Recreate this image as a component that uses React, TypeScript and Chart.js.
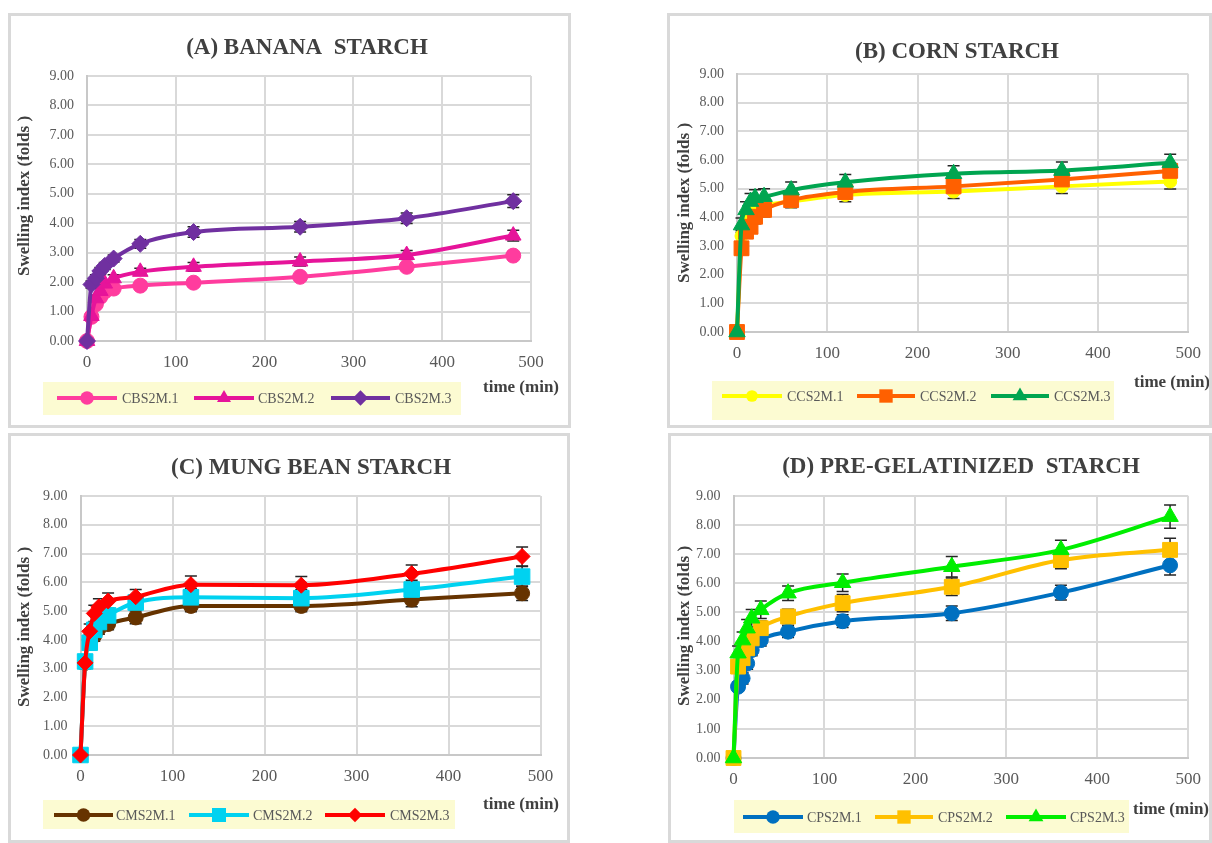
import React, { useEffect, useRef } from "react";
import { Chart, registerables } from "chart.js";

Chart.register(...registerables);

const FONT = "'Liberation Serif', 'Times New Roman', serif";

// ---- shared axes ----
const times = [0, 5, 10, 15, 20, 30, 60, 120, 240, 360, 480];
const xTickValues = [0, 100, 200, 300, 400, 500];
const xTickLabels = ["0", "100", "200", "300", "400", "500"];
const yTickValues = [0, 1, 2, 3, 4, 5, 6, 7, 8, 9];
const yTickLabels = ["0.00", "1.00", "2.00", "3.00", "4.00", "5.00", "6.00", "7.00", "8.00", "9.00"];
const yAxisTitle = "Swelling index (folds )";
const xAxisTitle = "time (min)";

// ---- (A) Banana starch ----
const titleA = "(A) BANANA  STARCH";
const labelsA = ["CBS2M.1", "CBS2M.2", "CBS2M.3"];
const cbs1 = [0, 0.82, 1.25, 1.5, 1.68, 1.78, 1.88, 1.98, 2.18, 2.52, 2.9];
const cbs2 = [0, 0.85, 1.45, 1.7, 1.95, 2.13, 2.35, 2.52, 2.7, 2.92, 3.58];
const cbs3 = [0, 1.92, 2.13, 2.38, 2.55, 2.8, 3.3, 3.7, 3.88, 4.17, 4.75];
const cbs1Err = [0, 0.08, 0.08, 0.08, 0.08, 0.08, 0.1, 0.1, 0.1, 0.12, 0.12];
const cbs2Err = [0, 0.1, 0.1, 0.1, 0.1, 0.12, 0.12, 0.15, 0.15, 0.15, 0.18];
const cbs3Err = [0, 0.12, 0.12, 0.12, 0.12, 0.12, 0.15, 0.18, 0.18, 0.18, 0.22];

// ---- (B) Corn starch ----
const titleB = "(B) CORN STARCH";
const labelsB = ["CCS2M.1", "CCS2M.2", "CCS2M.3"];
const ccs1 = [0, 3.35, 3.85, 4.1, 4.25, 4.4, 4.55, 4.78, 4.9, 5.08, 5.25];
const ccs2 = [0, 2.92, 3.5, 3.67, 4.02, 4.26, 4.6, 4.88, 5.08, 5.32, 5.62];
const ccs3 = [0, 3.73, 4.26, 4.55, 4.68, 4.72, 4.95, 5.22, 5.52, 5.63, 5.9];
const ccs1Err = [0, 0.2, 0.2, 0.2, 0.2, 0.22, 0.22, 0.24, 0.24, 0.25, 0.26];
const ccs2Err = [0, 0.22, 0.22, 0.22, 0.24, 0.24, 0.25, 0.25, 0.25, 0.26, 0.28];
const ccs3Err = [0, 0.25, 0.28, 0.28, 0.28, 0.28, 0.28, 0.27, 0.28, 0.3, 0.3];

// ---- (C) Mung bean starch ----
const titleC = "(C) MUNG BEAN STARCH";
const labelsC = ["CMS2M.1", "CMS2M.2", "CMS2M.3"];
const cms1 = [0, 3.2, 4.0, 4.15, 4.4, 4.55, 4.78, 5.18, 5.18, 5.4, 5.62];
const cms2 = [0, 3.25, 3.9, 4.35, 4.62, 4.85, 5.3, 5.48, 5.45, 5.75, 6.2];
const cms3 = [0, 3.2, 4.3, 4.92, 5.15, 5.35, 5.5, 5.92, 5.9, 6.3, 6.9];
const cms1Err = [0, 0.15, 0.2, 0.2, 0.2, 0.2, 0.22, 0.2, 0.2, 0.25, 0.25];
const cms2Err = [0, 0.2, 0.25, 0.25, 0.25, 0.25, 0.25, 0.3, 0.3, 0.32, 0.35];
const cms3Err = [0, 0.2, 0.25, 0.28, 0.28, 0.28, 0.25, 0.3, 0.3, 0.3, 0.33];

// ---- (D) Pre-gelatinized starch ----
const titleD = "(D) PRE-GELATINIZED  STARCH";
const labelsD = ["CPS2M.1", "CPS2M.2", "CPS2M.3"];
const cps1 = [0, 2.45, 2.74, 3.25, 3.71, 4.05, 4.34, 4.7, 4.97, 5.68, 6.62];
const cps2 = [0, 3.14, 3.43, 3.77, 4.11, 4.46, 4.86, 5.32, 5.88, 6.8, 7.15];
const cps3 = [0, 3.6, 4.05, 4.46, 4.8, 5.09, 5.66, 6.02, 6.57, 7.15, 8.29];
const cps1Err = [0, 0.15, 0.2, 0.2, 0.2, 0.2, 0.2, 0.22, 0.25, 0.25, 0.33];
const cps2Err = [0, 0.2, 0.2, 0.25, 0.25, 0.25, 0.25, 0.3, 0.3, 0.3, 0.4];
const cps3Err = [0, 0.25, 0.28, 0.3, 0.3, 0.3, 0.25, 0.3, 0.35, 0.33, 0.4];

type PointStyle = "circle" | "rect" | "triangle" | "rectRot";
type Series = { label: string; values: number[]; err: number[]; color: string; point: PointStyle; radius: number };
type PanelCfg = {
  title: string;
  left: number; top: number; w: number; h: number;
  area: { l: number; r: number; t: number; b: number };
  titlePos: [number, number];
  yTitlePos: [number, number];
  timePos: [number, number];
  legendBox: [number, number, number, number];
  legendY: number;
  legendLines: [number, number][];
  legendText: number[];
  series: Series[];
};

const panels: PanelCfg[] = [
  {
    title: titleA, left: 8, top: 13, w: 563, h: 415,
    area: { l: 79, r: 523, t: 63, b: 328 },
    titlePos: [299, 35], yTitlePos: [17, 183], timePos: [475, 375],
    legendBox: [35, 369, 453, 402], legendY: 385,
    legendLines: [[49, 109], [186, 246], [323, 382]], legendText: [114, 250, 387],
    series: [
      { label: labelsA[0], values: cbs1, err: cbs1Err, color: "#ff3c9e", point: "circle", radius: 7.5 },
      { label: labelsA[1], values: cbs2, err: cbs2Err, color: "#e6149a", point: "triangle", radius: 9 },
      { label: labelsA[2], values: cbs3, err: cbs3Err, color: "#7030a0", point: "rectRot", radius: 8.5 },
    ],
  },
  {
    title: titleB, left: 667, top: 13, w: 545, h: 415,
    area: { l: 70, r: 525, t: 61, b: 319 },
    titlePos: [290, 39], yTitlePos: [18, 190], timePos: [467, 370],
    legendBox: [45, 368, 447, 407], legendY: 383,
    legendLines: [[55, 115], [190, 248], [324, 382]], legendText: [120, 253, 387],
    series: [
      { label: labelsB[0], values: ccs1, err: ccs1Err, color: "#ffff00", point: "circle", radius: 6.5 },
      { label: labelsB[1], values: ccs2, err: ccs2Err, color: "#ff6000", point: "rect", radius: 10.5 },
      { label: labelsB[2], values: ccs3, err: ccs3Err, color: "#00a550", point: "triangle", radius: 9.5 },
    ],
  },
  {
    title: titleC, left: 8, top: 433, w: 562, h: 410,
    area: { l: 72.5, r: 532.5, t: 63, b: 322 },
    titlePos: [303, 35], yTitlePos: [17, 194], timePos: [475, 372],
    legendBox: [35, 367, 447, 396], legendY: 382,
    legendLines: [[46, 105], [181, 241], [317, 377]], legendText: [108, 245, 382],
    series: [
      { label: labelsC[0], values: cms1, err: cms1Err, color: "#663300", point: "circle", radius: 7.5 },
      { label: labelsC[1], values: cms2, err: cms2Err, color: "#00d2f0", point: "rect", radius: 11 },
      { label: labelsC[2], values: cms3, err: cms3Err, color: "#ff0000", point: "rectRot", radius: 8 },
    ],
  },
  {
    title: titleD, left: 668, top: 433, w: 544, h: 410,
    area: { l: 65.5, r: 523, t: 63, b: 325 },
    titlePos: [293, 34], yTitlePos: [17, 193], timePos: [465, 377],
    legendBox: [66, 367, 461, 400], legendY: 384,
    legendLines: [[75, 135], [207, 265], [338, 398]], legendText: [139, 270, 402],
    series: [
      { label: labelsD[0], values: cps1, err: cps1Err, color: "#0070c0", point: "circle", radius: 7.5 },
      { label: labelsD[1], values: cps2, err: cps2Err, color: "#ffc000", point: "rect", radius: 10.5 },
      { label: labelsD[2], values: cps3, err: cps3Err, color: "#00ee00", point: "triangle", radius: 9.5 },
    ],
  },
];

function drawMarker(ctx: CanvasRenderingContext2D, style: PointStyle, x: number, y: number, r: number, color: string) {
  ctx.beginPath();
  if (style === "circle") ctx.arc(x, y, r, 0, Math.PI * 2);
  else if (style === "rect") {
    const s = r * Math.SQRT1_2;
    ctx.rect(x - s, y - s, 2 * s, 2 * s);
  } else if (style === "triangle") {
    ctx.moveTo(x, y - r);
    ctx.lineTo(x + r * 0.866, y + r / 2);
    ctx.lineTo(x - r * 0.866, y + r / 2);
    ctx.closePath();
  } else {
    ctx.moveTo(x, y - r);
    ctx.lineTo(x + r, y);
    ctx.lineTo(x, y + r);
    ctx.lineTo(x - r, y);
    ctx.closePath();
  }
  ctx.fillStyle = color;
  ctx.fill();
}

function makeDecor(cfg: PanelCfg) {
  return {
    id: "decor",
    beforeDatasetsDraw(chart: any) {
      const ctx: CanvasRenderingContext2D = chart.ctx;
      const ys = chart.scales.y;
      ctx.save();
      ctx.strokeStyle = "#262626";
      ctx.lineWidth = 1.5;
      cfg.series.forEach((s, i) => {
        const meta = chart.getDatasetMeta(i);
        meta.data.forEach((pt: any, j: number) => {
          const e = s.err[j];
          if (!e) return;
          const x = pt.x;
          const y1 = ys.getPixelForValue(s.values[j] + e);
          const y2 = ys.getPixelForValue(s.values[j] - e);
          ctx.beginPath();
          ctx.moveTo(x, y1); ctx.lineTo(x, y2);
          ctx.moveTo(x - 6, y1); ctx.lineTo(x + 6, y1);
          ctx.moveTo(x - 6, y2); ctx.lineTo(x + 6, y2);
          ctx.stroke();
        });
      });
      ctx.restore();
    },
    afterDraw(chart: any) {
      const ctx: CanvasRenderingContext2D = chart.ctx;
      ctx.save();
      // title
      ctx.fillStyle = "#404040";
      ctx.font = `bold 23px ${FONT}`;
      ctx.textAlign = "center";
      ctx.textBaseline = "middle";
      ctx.fillText(cfg.title, cfg.titlePos[0], cfg.titlePos[1]);
      // y title
      ctx.save();
      ctx.translate(cfg.yTitlePos[0], cfg.yTitlePos[1]);
      ctx.rotate(-Math.PI / 2);
      ctx.font = `bold 17px ${FONT}`;
      ctx.fillText(yAxisTitle, 0, 0);
      ctx.restore();
      // x title
      ctx.font = `bold 17px ${FONT}`;
      ctx.textAlign = "left";
      ctx.fillText(xAxisTitle, cfg.timePos[0], cfg.timePos[1]);
      // legend
      const [bx1, by1, bx2, by2] = cfg.legendBox;
      ctx.fillStyle = "#fcfbd2";
      ctx.fillRect(bx1, by1, bx2 - bx1, by2 - by1);
      cfg.series.forEach((s, i) => {
        const [a, b] = cfg.legendLines[i];
        ctx.strokeStyle = s.color;
        ctx.lineWidth = 4;
        ctx.beginPath();
        ctx.moveTo(a, cfg.legendY);
        ctx.lineTo(b, cfg.legendY);
        ctx.stroke();
        drawMarker(ctx, s.point, (a + b) / 2, cfg.legendY, s.radius * 0.9, s.color);
        ctx.fillStyle = "#595959";
        ctx.font = `14px ${FONT}`;
        ctx.textAlign = "left";
        ctx.textBaseline = "middle";
        ctx.fillText(s.label, cfg.legendText[i], cfg.legendY + 1);
      });
      ctx.restore();
    },
  };
}

function Panel({ cfg }: { cfg: PanelCfg }) {
  const ref = useRef<HTMLCanvasElement>(null);
  useEffect(() => {
    const canvas = ref.current!;
    const yAxisW = 60;
    const xAxisH = 30;
    const a = cfg.area;
    const n = cfg.series.length;
    const chart = new Chart(canvas, {
      type: "line",
      data: {
        datasets: cfg.series.map((s, i) => ({
          label: s.label,
          data: times.map((t, k) => ({ x: t, y: s.values[k] })),
          borderColor: s.color,
          backgroundColor: s.color,
          pointBackgroundColor: s.color,
          pointBorderColor: s.color,
          pointStyle: s.point,
          pointRadius: s.radius,
          pointBorderWidth: 1,
          borderWidth: 4,
          cubicInterpolationMode: "monotone",
          clip: false,
          order: n - i,
        })),
      },
      options: {
        animation: false,
        responsive: false,
        devicePixelRatio: 1,
        events: [],
        layout: {
          padding: { left: a.l - yAxisW, right: cfg.w - a.r, top: a.t, bottom: cfg.h - a.b - xAxisH },
        },
        plugins: { legend: { display: false }, tooltip: { enabled: false }, title: { display: false } },
        scales: {
          x: {
            type: "linear",
            min: 0,
            max: 500,
            afterFit: (s: any) => { s.height = xAxisH; },
            afterBuildTicks: (s: any) => { s.ticks = xTickValues.map((v) => ({ value: v })); },
            ticks: {
              callback: (_v: any, i: number) => xTickLabels[i],
              font: { family: FONT, size: 17 },
              color: "#595959",
              padding: 11,
              maxRotation: 0,
            },
            grid: { color: "#d9d9d9", lineWidth: 2, drawTicks: false },
            border: { color: "#c8c8c8", width: 2 },
          },
          y: {
            type: "linear",
            min: 0,
            max: 9,
            afterFit: (s: any) => { s.width = yAxisW; },
            afterBuildTicks: (s: any) => { s.ticks = yTickValues.map((v) => ({ value: v })); },
            ticks: {
              callback: (_v: any, i: number) => yTickLabels[i],
              font: { family: FONT, size: 14 },
              color: "#595959",
              padding: 13,
            },
            grid: { color: "#d9d9d9", lineWidth: 2, drawTicks: false },
            border: { color: "#c8c8c8", width: 2 },
          },
        },
      } as any,
      plugins: [makeDecor(cfg) as any],
    });
    return () => chart.destroy();
  }, [cfg]);

  return (
    <>
      <canvas
        ref={ref}
        width={cfg.w}
        height={cfg.h}
        style={{ position: "absolute", left: cfg.left, top: cfg.top, width: cfg.w, height: cfg.h }}
      />
      <div
        style={{
          position: "absolute",
          left: cfg.left,
          top: cfg.top,
          width: cfg.w,
          height: cfg.h,
          border: "3px solid #d9d9d9",
          boxSizing: "border-box",
          pointerEvents: "none",
        }}
      />
    </>
  );
}

export default function App() {
  return (
    <div
      style={{
        position: "fixed",
        left: 0,
        top: 0,
        width: 1212,
        height: 843,
        overflow: "hidden",
        background: "#ffffff",
      }}
    >
      {panels.map((p, i) => (
        <Panel key={i} cfg={p} />
      ))}
    </div>
  );
}
